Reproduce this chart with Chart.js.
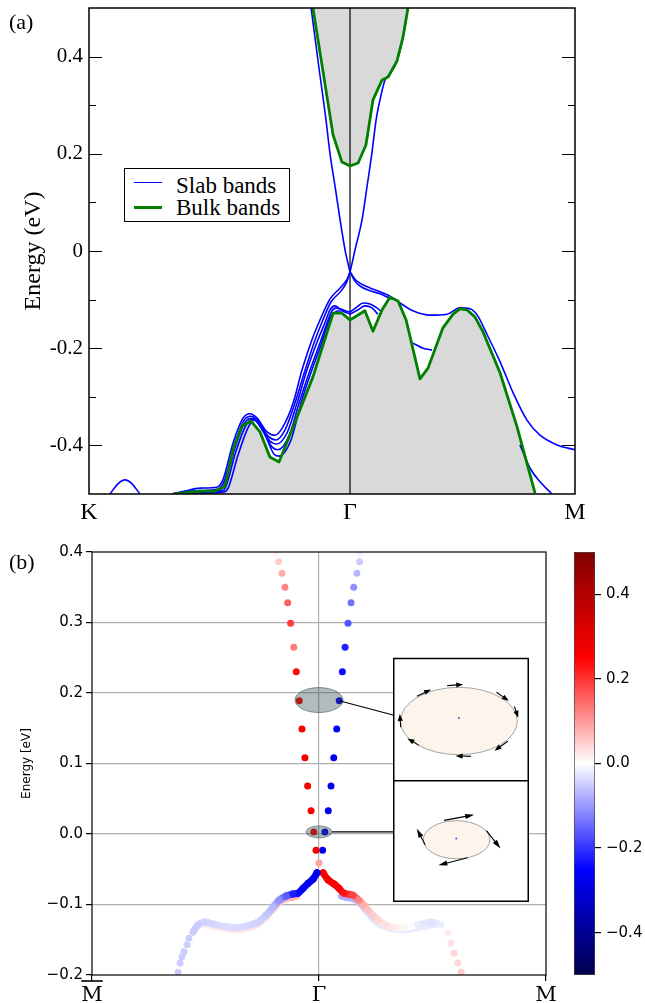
<!DOCTYPE html>
<html>
<head>
<meta charset="utf-8">
<title>Slab bands / spin texture</title>
<script src="https://cdn.jsdelivr.net/npm/chart.js@4.4.1/dist/chart.umd.min.js"></script>
<style>
  html, body { margin:0; padding:0; background:#fff; }
  #page { position:relative; width:645px; height:1003px; overflow:hidden; }
  #page canvas { position:absolute; }
  .tag { position:absolute; font:22px/22px 'Liberation Serif', serif; color:#000; }
  #legend { position:absolute; left:124px; top:168px; width:164px; height:52px; border:1px solid #000; background:#fff; font:23px/23px 'Liberation Serif', serif; }
  #legend .sw { position:absolute; left:9px; width:28px; }
  #legend .tx { position:absolute; left:51px; white-space:nowrap; }
</style>
</head>
<body>
<div id="page">
  <canvas id="bandsA" width="645" height="530" style="left:0;top:0"></canvas>
  <canvas id="spinB" width="645" height="473" style="left:0;top:530px"></canvas>
  <canvas id="cbar" width="85" height="473" style="left:560px;top:530px"></canvas>
  <canvas id="insetUp" width="152" height="137" style="left:393px;top:645px;background:#fff"></canvas>
  <canvas id="insetLo" width="136" height="122" style="left:393px;top:780px;background:#fff"></canvas>
  <div class="tag" style="left:9px;top:11px">(a)</div>
  <div class="tag" style="left:9px;top:551px">(b)</div>
  <div id="legend">
    <div class="sw" style="top:13px;border-top:1.6px solid #0000ff"></div>
    <div class="tx" style="top:5px">Slab bands</div>
    <div class="sw" style="top:37px;border-top:3px solid #008000"></div>
    <div class="tx" style="top:27px">Bulk bands</div>
  </div>
</div>
<script>
// ---- panel (a) : slab bands vs projected bulk bands ----------------------
const K_TICKS = [0, 1, 1.862];
const K_LABELS = ['K', 'Γ', 'M'];
const E_RANGE = [-0.5, 0.5];
const E_MAJOR = [-0.4, -0.2, 0, 0.2, 0.4];
const E_LABELS = ['-0.4', '-0.2', '0', '0.2', '0.4'];
const E_MINOR = [-0.3, -0.1, 0.1, 0.3];

// bulk band edges (green line, grey region)
const bulkCondK = [0.858,0.935,0.969,1.000,1.031,1.061,1.088,1.123,1.146,1.180,1.203,1.222];
const bulkCondE = [0.500,0.239,0.183,0.175,0.181,0.218,0.311,0.352,0.358,0.391,0.440,0.500];
const bulkValK = [0.326,0.425,0.483,0.521,0.552,0.586,0.621,0.655,0.693,0.728,0.762,0.808,0.858,0.897,0.935,0.969,1.000,
                  1.057,1.088,1.123,1.153,1.184,1.215,1.268,1.299,1.356,1.395,1.421,1.448,1.479,1.510,1.575,1.640,1.709];
const bulkValE = [-0.500,-0.494,-0.494,-0.484,-0.409,-0.360,-0.350,-0.372,-0.424,-0.434,-0.389,-0.327,-0.259,-0.193,-0.128,-0.128,-0.142,
                  -0.123,-0.165,-0.121,-0.095,-0.103,-0.142,-0.263,-0.241,-0.158,-0.130,-0.119,-0.121,-0.136,-0.167,-0.251,-0.362,-0.498];

// slab bands (blue)
const slabCondLK = [0.851,0.877,0.908,0.923,0.943,0.962,0.981,0.992,1.000];
const slabCondLE = [0.500,0.393,0.270,0.202,0.132,0.064,0.002,-0.025,-0.043];
const slabCondRK = [1.000,1.008,1.019,1.046,1.065,1.084,1.100,1.119,1.134,1.149,1.180,1.203,1.222];
const slabCondRE = [-0.043,-0.025,0.002,0.064,0.132,0.202,0.270,0.321,0.352,0.362,0.391,0.440,0.500];
const slabV1K = [0.318,0.368,0.425,0.490,0.513,0.552,0.590,0.617,0.644,0.682,0.713,0.743,0.782,0.816,0.854,0.885,0.923,0.962,0.989,1.000];
const slabV1E = [-0.500,-0.494,-0.488,-0.486,-0.471,-0.395,-0.344,-0.335,-0.344,-0.372,-0.379,-0.362,-0.313,-0.245,-0.183,-0.142,-0.099,-0.076,-0.058,-0.043];
const slabV2K = [0.318,0.387,0.494,0.517,0.556,0.594,0.621,0.648,0.686,0.716,0.751,0.789,0.828,0.866,0.893,0.927,0.966,0.989,1.000];
const slabV2E = [-0.500,-0.494,-0.490,-0.475,-0.401,-0.348,-0.340,-0.350,-0.381,-0.389,-0.368,-0.313,-0.245,-0.183,-0.146,-0.105,-0.082,-0.062,-0.043];
const slabV3K = [0.326,0.502,0.521,0.559,0.598,0.625,0.655,0.693,0.720,0.759,0.797,0.835,0.877,0.908,0.923,0.943,0.962,1.000];
const slabV3E = [-0.500,-0.492,-0.479,-0.405,-0.352,-0.344,-0.358,-0.391,-0.397,-0.374,-0.313,-0.245,-0.183,-0.142,-0.121,-0.113,-0.119,-0.126];
const slabV4K = [0.333,0.510,0.525,0.563,0.602,0.628,0.663,0.701,0.724,0.766,0.805,0.847,0.889,0.916,0.931,0.950,0.969,1.000];
const slabV4E = [-0.500,-0.494,-0.484,-0.412,-0.358,-0.346,-0.366,-0.403,-0.409,-0.381,-0.313,-0.245,-0.183,-0.142,-0.123,-0.117,-0.123,-0.130];
const slabV5K = [0.341,0.517,0.533,0.571,0.609,0.632,0.670,0.709,0.728,0.774,0.812,0.854,0.893,0.923,0.939,0.954,0.969,0.985];
const slabV5E = [-0.500,-0.496,-0.488,-0.420,-0.364,-0.348,-0.374,-0.418,-0.422,-0.389,-0.313,-0.245,-0.187,-0.138,-0.128,-0.123,-0.128,-0.134];
const slabR1K = [1.000,1.019,1.038,1.077,1.115,1.153,1.192,1.241,1.307,1.372,1.421,1.460,1.490,1.517,1.575,1.625,1.678,1.728,1.793,1.862];
const slabR1E = [-0.043,-0.058,-0.066,-0.076,-0.084,-0.093,-0.107,-0.123,-0.132,-0.130,-0.117,-0.119,-0.134,-0.163,-0.228,-0.292,-0.348,-0.379,-0.399,-0.409];
const slabR2K = [1.000,1.019,1.038,1.077,1.115,1.153,1.180];
const slabR2E = [-0.043,-0.062,-0.072,-0.082,-0.088,-0.097,-0.101];
const slabR3K = [1.000,1.027,1.050,1.077,1.103,1.123];
const slabR3E = [-0.126,-0.115,-0.107,-0.109,-0.117,-0.126];
const slabR4K = [1.000,1.031,1.057,1.084,1.107];
const slabR4E = [-0.130,-0.121,-0.113,-0.117,-0.130];
const slabR5K = [1.230,1.253,1.280,1.314];
const slabR5E = [-0.187,-0.193,-0.200,-0.204];
const slabR6K = [1.651,1.690,1.728,1.774];
const slabR6E = [-0.399,-0.447,-0.475,-0.500];
const slabKArcK = [0.080,0.111,0.138,0.165,0.195];
const slabKArcE = [-0.500,-0.479,-0.471,-0.479,-0.500];

// ---- panel (b) : spin-resolved surface bands -----------------------------
const KB_TICKS = [-1, 0, 1];
const KB_LABELS = ['M', 'Γ', 'M'];       // first one carries an overbar
const EB_TICKS = [-0.2, -0.1, 0.0, 0.1, 0.2, 0.3, 0.4];
const CB_MIN = -0.5, CB_MAX = 0.5;
const CB_TICKS = [-0.4, -0.2, 0.0, 0.2, 0.4];

const condRedK = [-0.189,-0.178,-0.163,-0.150,-0.138,-0.125,-0.111,-0.100,-0.087,-0.075,-0.062,-0.050,-0.035,-0.023,-0.013];
const condRedE = [0.399,0.386,0.370,0.350,0.328,0.299,0.265,0.230,0.189,0.149,0.108,0.068,0.033,0.003,-0.023];
const condRedS = [0.015,0.05,0.08,0.12,0.155,0.19,0.13,0.24,0.26,0.26,0.27,0.27,0.27,0.27,0.27];
const condBlueK = [0.182,0.179,0.167,0.153,0.141,0.128,0.115,0.103,0.089,0.078,0.065,0.053,0.041,0.026,0.016];
const condBlueE = [0.399,0.386,0.370,0.350,0.328,0.299,0.265,0.230,0.189,0.149,0.108,0.068,0.033,0.003,-0.023];
const condBlueS = [-0.015,-0.05,-0.07,-0.11,-0.14,-0.17,-0.22,-0.24,-0.26,-0.26,-0.27,-0.27,-0.27,-0.27,-0.27];
const diracK = [0, 0];
const diracE = [-0.041, -0.041];
const diracS = [-0.04, 0.09];

const valBlueK = [-0.009,-0.026,-0.048,-0.070,-0.093,-0.115,-0.145,-0.176,-0.203,-0.233,-0.269,-0.313,
                  -0.357,-0.401,-0.463,-0.507,-0.533,-0.555,-0.573,-0.581,-0.595,-0.604,-0.612,-0.621];
const valBlueE = [-0.055,-0.064,-0.070,-0.077,-0.084,-0.085,-0.088,-0.094,-0.104,-0.115,-0.125,-0.130,
                  -0.133,-0.132,-0.128,-0.125,-0.129,-0.139,-0.148,-0.157,-0.167,-0.174,-0.183,-0.196];
const valBlueS = [-0.27,-0.27,-0.26,-0.25,-0.24,-0.22,-0.16,-0.11,-0.07,-0.055,-0.045,-0.04,
                  -0.035,-0.035,-0.04,-0.045,-0.05,-0.05,-0.05,-0.05,-0.05,-0.05,-0.05,-0.05];
const valRedK = [0.018,0.040,0.066,0.088,0.110,0.150,0.176,0.198,0.216,0.260,0.317,0.374,0.436,0.493,0.537,0.568,0.581,0.595,0.612,0.626];
const valRedE = [-0.055,-0.065,-0.071,-0.077,-0.084,-0.087,-0.094,-0.101,-0.108,-0.122,-0.132,-0.133,-0.129,-0.125,-0.129,-0.140,-0.155,-0.169,-0.183,-0.196];
const valRedS = [0.27,0.27,0.26,0.25,0.23,0.18,0.12,0.08,0.06,0.04,0.025,0.01,-0.02,-0.03,-0.02,0.02,0.03,0.04,0.04,0.05];

// weak spin partners just below the main valence branch
const partnerLK = [-0.100,-0.125,-0.150,-0.176,-0.203,-0.233,-0.269,-0.313,-0.357,-0.401,-0.463,-0.507];
const partnerLE = [-0.088,-0.090,-0.092,-0.097,-0.107,-0.118,-0.128,-0.134,-0.136,-0.135,-0.131,-0.128];
const partnerLS = [0.08,0.08,0.07,0.06,0.04,0.03,0.025,0.02,0.02,0.02,0.02,0.02];
const partnerRK = [0.100,0.125,0.150,0.176,0.203,0.233,0.269,0.313,0.357,0.401,0.463,0.507];
const partnerRE = [-0.088,-0.090,-0.092,-0.097,-0.107,-0.118,-0.128,-0.134,-0.136,-0.135,-0.131,-0.128];
const partnerRS = [-0.08,-0.08,-0.07,-0.06,-0.04,-0.03,-0.025,-0.02,-0.02,-0.02,-0.02,-0.02];

// grey markers round the two constant-energy cuts
const hlK = [0, 0];
const hlE = [0.190, 0.003];
const hlHalfK = [0.106, 0.057];
const hlHalfE = [0.0177, 0.0085];

// insets: contour ellipse + spin arrows (inset k units)
const upEllipse = [-0.0018, -0.0016, 0.0503, 0.0291];   // cx, cy, a, b
const upDot = [-0.0018, 0.0010];
const upTailX = [-0.0118,-0.0379,-0.0518,-0.0363,0.0086,0.0403,0.0460,0.0306];
const upTailY = [0.0290,0.0199,-0.0069,-0.0224,-0.0321,-0.0191,0.0110,0.0232];
const upHeadX = [0.0020,-0.0257,-0.0526,-0.0460,-0.0045,0.0289,0.0493,0.0412];
const upHeadY = [0.0299,0.0256,0.0045,-0.0167,-0.0317,-0.0272,0.0012,0.0159];
const loEllipse = [-0.0034, 0.0011, 0.0288, 0.0166];
const loDot = [-0.0037, 0.0022];
const loTailX = [-0.0143,0.0224,0.0061,-0.0306];
const loTailY = [0.0180,0.0090,-0.0147,-0.0033];
const loHeadX = [0.0118,0.0346,-0.0192,-0.0379];
const loHeadY = [0.0229,-0.0065,-0.0212,0.0106];

// ---- helpers --------------------------------------------------------------
const SERIF_A = "'Liberation Serif', 'Times New Roman', serif";
const SANS_B = "'DejaVu Sans', sans-serif";
const SERIF_B = "'DejaVu Serif', serif";
const pts = (ks, es) => ks.map((k, i) => ({x: k, y: es[i]}));
const minus = (v) => v.toFixed(1).replace('-', '\u2212');
const noPadY = (w) => (s) => { s.width = w; s.paddingTop = 0; s.paddingBottom = 0; };
const noPadX = (h) => (s) => { s.height = h; s.paddingLeft = 0; s.paddingRight = 0; };

// matplotlib "seismic"
const SEISMIC = [[0, [0, 0, 76]], [0.25, [0, 0, 255]], [0.5, [255, 255, 255]], [0.75, [255, 0, 0]], [1, [128, 0, 0]]];
function seismic(v){
  let t = (v - CB_MIN) / (CB_MAX - CB_MIN);
  t = Math.max(0, Math.min(1, t));
  for(let i = 1; i < SEISMIC.length; i++){
    if(t <= SEISMIC[i][0]){
      const [t0, c0] = SEISMIC[i-1], [t1, c1] = SEISMIC[i];
      const f = (t - t0) / (t1 - t0);
      return 'rgb(' + c0.map((c, j) => Math.round(c + (c1[j] - c) * f)).join(',') + ')';
    }
  }
  return 'rgb(128,0,0)';
}

// 1) panel (a) ----------------------------------------------------------------
const slabLines = [
  [slabCondLK, slabCondLE], [slabCondRK, slabCondRE],
  [slabV1K, slabV1E], [slabV2K, slabV2E], [slabV3K, slabV3E], [slabV4K, slabV4E], [slabV5K, slabV5E],
  [slabR1K, slabR1E], [slabR2K, slabR2E], [slabR3K, slabR3E], [slabR4K, slabR4E], [slabR5K, slabR5E], [slabR6K, slabR6E],
  [slabKArcK, slabKArcE]
];

const dsA = [
  {data: pts(bulkCondK, bulkCondE), showLine:true, fill:'end', backgroundColor:'#d9d9d9', borderWidth:0, pointRadius:0, tension:0, order:5},
  {data: pts(bulkValK, bulkValE), showLine:true, fill:'start', backgroundColor:'#d9d9d9', borderWidth:0, pointRadius:0, tension:0, order:5},
  {data: [{x:K_TICKS[1], y:E_RANGE[0]}, {x:K_TICKS[1], y:E_RANGE[1]}], showLine:true, borderColor:'#000', borderWidth:1.2, pointRadius:0, order:4}
];
slabLines.forEach(([k, e]) => dsA.push({
  data: pts(k, e), showLine:true, borderColor:'#0000ff', borderWidth:1.6, pointRadius:0,
  cubicInterpolationMode:'monotone', order:2
}));
[[bulkCondK, bulkCondE], [bulkValK, bulkValE]].forEach(([k, e]) => dsA.push({
  data: pts(k, e), showLine:true, borderColor:'#008000', borderWidth:2.8, pointRadius:0,
  tension:0, borderJoinStyle:'round', order:1
}));

const frameA = {
  id:'frameA',
  afterDraw(chart){
    const {ctx, chartArea:a, scales:{y}} = chart;
    ctx.save();
    ctx.strokeStyle = '#000';
    ctx.lineWidth = 1.5;
    ctx.strokeRect(a.left, a.top, a.right - a.left, a.bottom - a.top);
    ctx.lineWidth = 1.2;
    const tick = (v, len) => {
      const py = Math.round(y.getPixelForValue(v)) + 0.5;
      ctx.beginPath();
      ctx.moveTo(a.left, py); ctx.lineTo(a.left + len, py);
      ctx.moveTo(a.right, py); ctx.lineTo(a.right - len, py);
      ctx.stroke();
    };
    E_MAJOR.forEach(v => tick(v, 13));
    E_MINOR.forEach(v => tick(v, 7));
    ctx.restore();
  }
};

new Chart(document.getElementById('bandsA'), {
  type:'scatter',
  data:{datasets: dsA},
  options:{
    responsive:false, animation:false, events:[],
    layout:{padding:{left:0, top:8, right:70, bottom:0}},
    plugins:{legend:{display:false}, tooltip:{enabled:false}},
    scales:{
      x:{type:'linear', min:K_TICKS[0], max:K_TICKS[2],
         grid:{display:false, drawTicks:false}, border:{display:false},
         afterBuildTicks: s => { s.ticks = K_TICKS.map(v => ({value:v})); },
         ticks:{callback:(v, i) => K_LABELS[i], font:{family:SERIF_A, size:24}, color:'#000', padding:4, maxRotation:0, autoSkip:false},
         afterFit: noPadX(36)},
      y:{type:'linear', min:E_RANGE[0], max:E_RANGE[1],
         grid:{display:false, drawTicks:false}, border:{display:false},
         afterBuildTicks: s => { s.ticks = E_MAJOR.map(v => ({value:v})); },
         ticks:{callback:(v, i) => E_LABELS[i], font:{family:SERIF_A, size:21}, color:'#000', padding:6, autoSkip:false},
         title:{display:true, text:'Energy (eV)', font:{family:SERIF_A, size:24}, color:'#000', padding:{top:19}},
         afterFit: noPadY(89)}
    }
  },
  plugins:[frameA]
});

// 2) panel (b) ----------------------------------------------------------------
const CHART_B_TOP = 530;
const INSET_UP = {left:393, top:645};
const INSET_LO = {left:393, top:780};

function spinLine(ks, es, ss, tailDots, order){
  const n = ss.length;
  return {
    data: pts(ks, es), showLine:true, borderWidth:7, borderCapStyle:'round', borderJoinStyle:'round',
    borderColor:'rgba(0,0,0,0)', tension:0.3,
    segment:{borderColor: c => c.p0DataIndex >= n - tailDots ? 'rgba(0,0,0,0)' : seismic((ss[c.p0DataIndex] + ss[c.p1DataIndex]) / 2)},
    pointRadius:3.5, pointBorderWidth:0, pointBackgroundColor: ss.map(seismic), order
  };
}
function spinDots(ks, es, ss, order){
  return {data: pts(ks, es), showLine:false, pointRadius:3.5, pointBorderWidth:0,
          pointBackgroundColor: ss.map(seismic), order};
}

const dsB = [
  spinLine(partnerLK, partnerLE, partnerLS, 0, 6),
  spinLine(partnerRK, partnerRE, partnerRS, 0, 6),
  spinLine(valBlueK, valBlueE, valBlueS, 7, 4),
  spinLine(valRedK, valRedE, valRedS, 5, 4),
  spinDots(condRedK, condRedE, condRedS, 2),
  spinDots(condBlueK, condBlueE, condBlueS, 2),
  spinDots(diracK, diracE, diracS, 1)
];

const decoB = {
  id:'decoB',
  afterDatasetsDraw(chart){
    const {ctx, scales:{x, y}} = chart;
    ctx.save();
    hlK.forEach((k, i) => {
      const cx = x.getPixelForValue(k), cy = y.getPixelForValue(hlE[i]);
      const rx = x.getPixelForValue(k + hlHalfK[i]) - cx;
      const ry = cy - y.getPixelForValue(hlE[i] + hlHalfE[i]);
      ctx.beginPath();
      ctx.ellipse(cx, cy, rx, ry, 0, 0, Math.PI * 2);
      ctx.fillStyle = 'rgba(47,79,79,0.38)';
      ctx.fill();
      ctx.strokeStyle = 'rgba(47,79,79,0.55)';
      ctx.lineWidth = 1;
      ctx.stroke();
    });
    // connectors to the insets
    ctx.strokeStyle = '#000';
    ctx.lineWidth = 1.2;
    const sx = x.getPixelForValue(condBlueK[8]), sy = y.getPixelForValue(condBlueE[8]);
    ctx.beginPath();
    ctx.moveTo(sx, sy);
    ctx.lineTo(INSET_UP.left, INSET_UP.top + 70 - CHART_B_TOP);
    const lx = x.getPixelForValue(hlK[1] + hlHalfK[1]), ly = y.getPixelForValue(hlE[1]);
    ctx.moveTo(lx, ly);
    ctx.lineTo(INSET_LO.left, ly);
    ctx.stroke();
    ctx.restore();
  },
  afterDraw(chart){
    const {ctx, chartArea:a, scales:{x}} = chart;
    ctx.save();
    ctx.strokeStyle = '#000';
    ctx.lineWidth = 1.2;
    ctx.strokeRect(a.left, a.top, a.right - a.left, a.bottom - a.top);
    // overbar on the first M label
    const mx = x.getPixelForValue(KB_TICKS[0]);
    ctx.font = '21px ' + SERIF_B;
    const w = ctx.measureText(KB_LABELS[0]).width;
    ctx.lineWidth = 1.6;
    ctx.beginPath();
    ctx.moveTo(mx - w / 2, a.bottom + 6);
    ctx.lineTo(mx + w / 2, a.bottom + 6);
    ctx.stroke();
    ctx.restore();
  }
};

new Chart(document.getElementById('spinB'), {
  type:'scatter',
  data:{datasets: dsB},
  options:{
    responsive:false, animation:false, events:[],
    layout:{padding:{left:0, top:22, right:99, bottom:0}},
    plugins:{legend:{display:false}, tooltip:{enabled:false}},
    scales:{
      x:{type:'linear', min:KB_TICKS[0], max:KB_TICKS[2],
         afterBuildTicks: s => { s.ticks = KB_TICKS.map(v => ({value:v})); },
         ticks:{callback:(v, i) => KB_LABELS[i], font:{family:SERIF_B, size:21}, color:'#000', padding:2, maxRotation:0, autoSkip:false},
         grid:{color: c => (c.tick && c.tick.value === 0) ? '#b0b0b0' : 'rgba(0,0,0,0)', tickColor:'#000', tickLength:6, lineWidth:1.2},
         border:{display:false},
         afterFit: noPadX(28)},
      y:{type:'linear', min:EB_TICKS[0], max:EB_TICKS[EB_TICKS.length - 1],
         afterBuildTicks: s => { s.ticks = EB_TICKS.map(v => ({value:v})); },
         ticks:{callback:(v, i) => minus(EB_TICKS[i]), font:{family:SANS_B, size:15}, color:'#000', padding:3, autoSkip:false},
         grid:{color: c => (c.tick && c.tick.value > EB_TICKS[0] + 1e-9 && c.tick.value < EB_TICKS[EB_TICKS.length - 1] - 1e-9) ? '#b0b0b0' : 'rgba(0,0,0,0)',
               tickColor:'#000', tickLength:6, lineWidth:1.2},
         border:{display:false},
         title:{display:true, text:'Energy [eV]', font:{family:SANS_B, size:12}, color:'#000', padding:{top:20}},
         afterFit: noPadY(92)}
    }
  },
  plugins:[decoB]
});

// 3) colour bar ----------------------------------------------------------------
new Chart(document.getElementById('cbar'), {
  type:'bar',
  data:{labels:['spin'], datasets:[{
    data:[[CB_MIN, CB_MAX]],
    backgroundColor: c => {
      const a = c.chart.chartArea;
      if(!a) return '#fff';
      const g = c.chart.ctx.createLinearGradient(0, a.bottom, 0, a.top);
      SEISMIC.forEach(([t, col]) => g.addColorStop(t, 'rgb(' + col.join(',') + ')'));
      return g;
    },
    borderColor:'#444', borderWidth:1, borderSkipped:false,
    barPercentage:1, categoryPercentage:1
  }]},
  options:{
    responsive:false, animation:false, events:[],
    layout:{padding:{left:14, top:22, right:0, bottom:28}},
    plugins:{legend:{display:false}, tooltip:{enabled:false}},
    scales:{
      x:{display:false},
      y:{position:'right', min:CB_MIN, max:CB_MAX,
         afterBuildTicks: s => { s.ticks = CB_TICKS.map(v => ({value:v})); },
         ticks:{callback:(v, i) => minus(CB_TICKS[i]), font:{family:SANS_B, size:15}, color:'#000', padding:5},
         grid:{drawOnChartArea:false, tickColor:'#000', tickLength:6, lineWidth:1.2},
         border:{display:false},
         afterFit: noPadY(50)}
    }
  }
});

// 4) insets: constant-energy contours with spin arrows -------------------------
function insetChart(id, xr, yr, ell, dot, tx, ty, hx, hy, frame, headLen){
  const contour = {
    id:'contour',
    beforeDatasetsDraw(chart){
      const {ctx, scales:{x, y}} = chart;
      const cx = x.getPixelForValue(ell[0]), cy = y.getPixelForValue(ell[1]);
      const rx = x.getPixelForValue(ell[0] + ell[2]) - cx;
      const ry = cy - y.getPixelForValue(ell[1] + ell[3]);
      ctx.save();
      ctx.beginPath();
      ctx.ellipse(cx, cy, rx, ry, 0, 0, Math.PI * 2);
      ctx.fillStyle = '#fdf5ec';
      ctx.fill();
      ctx.strokeStyle = '#9a9a9a';
      ctx.lineWidth = 0.9;
      ctx.stroke();
      ctx.restore();
    },
    afterDatasetsDraw(chart){
      const {ctx, scales:{x, y}} = chart;
      ctx.save();
      ctx.strokeStyle = '#000';
      ctx.fillStyle = '#000';
      ctx.lineWidth = 1.1;
      tx.forEach((_, i) => {
        const x0 = x.getPixelForValue(tx[i]), y0 = y.getPixelForValue(ty[i]);
        const x1 = x.getPixelForValue(hx[i]), y1 = y.getPixelForValue(hy[i]);
        const ang = Math.atan2(y1 - y0, x1 - x0), c = Math.cos(ang), s = Math.sin(ang);
        const hw = 2.6;
        ctx.beginPath();
        ctx.moveTo(x0, y0);
        ctx.lineTo(x1 - headLen * 0.8 * c, y1 - headLen * 0.8 * s);
        ctx.stroke();
        ctx.beginPath();
        ctx.moveTo(x1, y1);
        ctx.lineTo(x1 - headLen * c + hw * s, y1 - headLen * s - hw * c);
        ctx.lineTo(x1 - headLen * c - hw * s, y1 - headLen * s + hw * c);
        ctx.closePath();
        ctx.fill();
      });
      ctx.lineWidth = 1.5;
      ctx.strokeRect(frame[0], frame[1], frame[2], frame[3]);
      ctx.restore();
    }
  };
  new Chart(document.getElementById(id), {
    type:'scatter',
    data:{datasets:[{data:[{x:dot[0], y:dot[1]}], pointRadius:0.9, pointBorderWidth:0, backgroundColor:'#3050d0'}]},
    options:{
      responsive:false, animation:false, events:[],
      layout:{padding:0},
      plugins:{legend:{display:false}, tooltip:{enabled:false}},
      scales:{x:{display:false, min:xr[0], max:xr[1]}, y:{display:false, min:yr[0], max:yr[1]}}
    },
    plugins:[contour]
  });
}

insetChart('insetUp', [-0.0550, 0.0689], [-0.0508, 0.0606], upEllipse, upDot,
           upTailX, upTailY, upHeadX, upHeadY, [0.75, 13.5, 134.5, 123], 7);
insetChart('insetLo', [-0.0550, 0.0558], [-0.0498, 0.0498], loEllipse, loDot,
           loTailX, loTailY, loHeadX, loHeadY, [0.75, 0.75, 134.5, 120.5], 9);
</script>
</body>
</html>
